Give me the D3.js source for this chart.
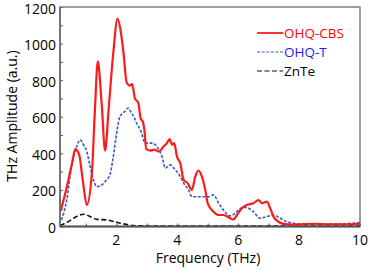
<!DOCTYPE html>
<html>
<head>
<meta charset="utf-8">
<script src="https://cdn.jsdelivr.net/npm/d3@7"></script>
<style>
  body { margin: 0; background: #fff; }
  svg text { font-family: "Open Sans", sans-serif; }
</style>
</head>
<body>
<svg id="chart" width="370" height="276"></svg>
<script>
// values
const cbsFreq = [0.17, 0.35, 0.55, 0.65, 0.78, 0.9, 1.03, 1.2, 1.3, 1.39, 1.52, 1.63, 1.75, 1.9, 2.04, 2.15, 2.23, 2.34, 2.45, 2.52, 2.61, 2.72, 2.8, 2.87, 2.92, 2.98, 3.11, 3.25, 3.39, 3.55, 3.66, 3.75, 3.83, 3.9, 3.99, 4.1, 4.21, 4.34, 4.48, 4.59, 4.7, 4.81, 4.92, 5.0, 5.19, 5.36, 5.52, 5.74, 5.85, 5.96, 6.12, 6.28, 6.5, 6.67, 6.78, 6.94, 7.05, 7.16, 7.32, 7.49, 7.8, 8.5, 9, 9.5, 10];
const cbsAmp = [85, 200, 350, 423, 392, 250, 118, 300, 650, 903, 666, 415, 650, 950, 1137, 1060, 958, 786, 770, 779, 700, 677, 590, 574, 529, 425, 415, 420, 410, 437, 456, 478, 447, 456, 382, 346, 255, 237, 200, 273, 306, 273, 200, 127, 81, 63, 63, 45, 39, 63, 100, 118, 127, 145, 127, 136, 100, 54, 26, 14, 10, 15, 12, 12, 15];

const tFreq = [0.2, 0.37, 0.53, 0.7, 0.81, 0.92, 1.03, 1.14, 1.25, 1.35, 1.52, 1.68, 1.79, 1.9, 2.01, 2.12, 2.28, 2.39, 2.48, 2.57, 2.68, 2.79, 2.95, 3.17, 3.33, 3.5, 3.61, 3.77, 3.93, 4.1, 4.21, 4.37, 4.48, 4.59, 4.81, 5.03, 5.19, 5.36, 5.52, 5.74, 5.9, 6.01, 6.17, 6.34, 6.5, 6.72, 6.94, 7.16, 7.38, 7.6, 7.81, 8.03, 8.5, 9, 9.5, 10];
const tAmp = [36, 145, 328, 437, 474, 447, 410, 328, 255, 218, 227, 255, 282, 382, 511, 602, 629, 648, 625, 602, 560, 529, 456, 456, 437, 382, 319, 337, 310, 273, 237, 200, 163, 163, 163, 163, 173, 127, 90, 58, 72, 90, 105, 100, 81, 45, 54, 63, 45, 26, 18, 14, 12, 13, 15, 22];

const znFreq = [0.15, 0.4, 0.7, 0.93, 1.19, 1.37, 1.69, 2.13, 2.57, 3, 4, 6, 8, 10];
const znAmp = [5, 25, 55, 67, 50, 39, 36, 18, 5, 3, 2, 2, 2, 2];

const xTickLabels = [2, 4, 6, 8, 10];
const yTickLabels = [0, 200, 400, 600, 800, 1000, 1200];

const seriesNames = ['OHQ-CBS', 'OHQ-T', 'ZnTe'];

const svg = d3.select('#chart');

const x = d3.scaleLinear().domain([0.15, 10]).range([60, 360]);
const y = d3.scaleLinear().domain([0, 1200]).range([226.5, 7]);

const zip = (fs, as) => fs.map((f, i) => ({ f: f, a: as[i] }));

const series = [
    { name: seriesNames[0], data: zip(cbsFreq, cbsAmp), color: '#ff1a1a', text: '#ff0000', width: 2.2, dash: null },
    { name: seriesNames[1], data: zip(tFreq, tAmp), color: '#3a5bbf', text: '#1a1aff', width: 1.6, dash: '3,1.6' },
    { name: seriesNames[2], data: zip(znFreq, znAmp), color: '#111', text: '#000', width: 1.6, dash: '5,2.5' }
];

// minor ticks
const yAxis = d3.axisLeft(y).tickValues(d3.range(0, 1201, 100)).tickSize(-3).tickFormat('');
const xAxis = d3.axisBottom(x).tickValues(d3.range(1, 10.01, 1)).tickSize(-3).tickFormat('');

svg.append('g').attr('transform', 'translate(60,0)').call(yAxis)
    .call(g => g.selectAll('line').attr('stroke', '#555'))
    .call(g => g.select('.domain').remove());
svg.append('g').attr('transform', 'translate(0,226.5)').call(xAxis)
    .call(g => g.selectAll('line').attr('stroke', '#555'))
    .call(g => g.select('.domain').remove());

// frame
svg.append('rect')
    .attr('x', 60).attr('y', 7)
    .attr('width', 300).attr('height', 219.5)
    .attr('fill', 'none')
    .attr('stroke', '#7f7f7f')
    .attr('stroke-width', 1.5);

const line = d3.line()
    .x(d => x(d.f))
    .y(d => y(d.a))
    .curve(d3.curveMonotoneX);

svg.append('g').selectAll('path')
    .data(series.slice().reverse())
    .join('path')
    .attr('d', d => line(d.data))
    .attr('fill', 'none')
    .attr('stroke', d => d.color)
    .attr('stroke-width', d => d.width)
    .attr('stroke-dasharray', d => d.dash);

// axis lines on top
svg.append('line').attr('x1', 60).attr('x2', 360).attr('y1', 226.5).attr('y2', 226.5)
    .attr('stroke', '#555').attr('stroke-width', 2);
svg.append('line').attr('x1', 60).attr('x2', 60).attr('y1', 7).attr('y2', 226.5)
    .attr('stroke', '#666').attr('stroke-width', 1.5);

// tick labels
svg.append('g').selectAll('text')
    .data(yTickLabels)
    .join('text')
    .attr('x', 56)
    .attr('y', d => y(d) + 1.5)
    .attr('dy', '0.36em')
    .attr('text-anchor', 'end')
    .attr('font-size', 14)
    .text(d => d);

svg.append('g').selectAll('text')
    .data(xTickLabels)
    .join('text')
    .attr('x', d => x(d))
    .attr('y', 240)
    .attr('dy', '0.36em')
    .attr('text-anchor', 'middle')
    .attr('font-size', 14)
    .text(d => d);

// axis titles
svg.append('text')
    .attr('x', 208).attr('y', 258)
    .attr('dy', '0.36em')
    .attr('text-anchor', 'middle')
    .attr('font-size', 14)
    .text('Frequency (THz)');

svg.append('text')
    .attr('transform', 'translate(12,116) rotate(-90)')
    .attr('dy', '0.36em')
    .attr('text-anchor', 'middle')
    .attr('font-size', 14)
    .text('THz Amplitude (a.u.)');

// legend
const legend = svg.append('g').selectAll('g')
    .data(series)
    .join('g')
    .attr('transform', (d, i) => `translate(257,${33 + i * 19})`);

legend.append('line')
    .attr('x1', 0).attr('x2', 26)
    .attr('stroke', d => d.color)
    .attr('stroke-width', d => d.width - 0.4)
    .attr('stroke-dasharray', d => d.dash);

legend.append('text')
    .attr('x', 27)
    .attr('dy', '0.36em')
    .attr('font-size', 13.5)
    .attr('fill', d => d.text)
    .text(d => d.name);
</script>
</body>
</html>
